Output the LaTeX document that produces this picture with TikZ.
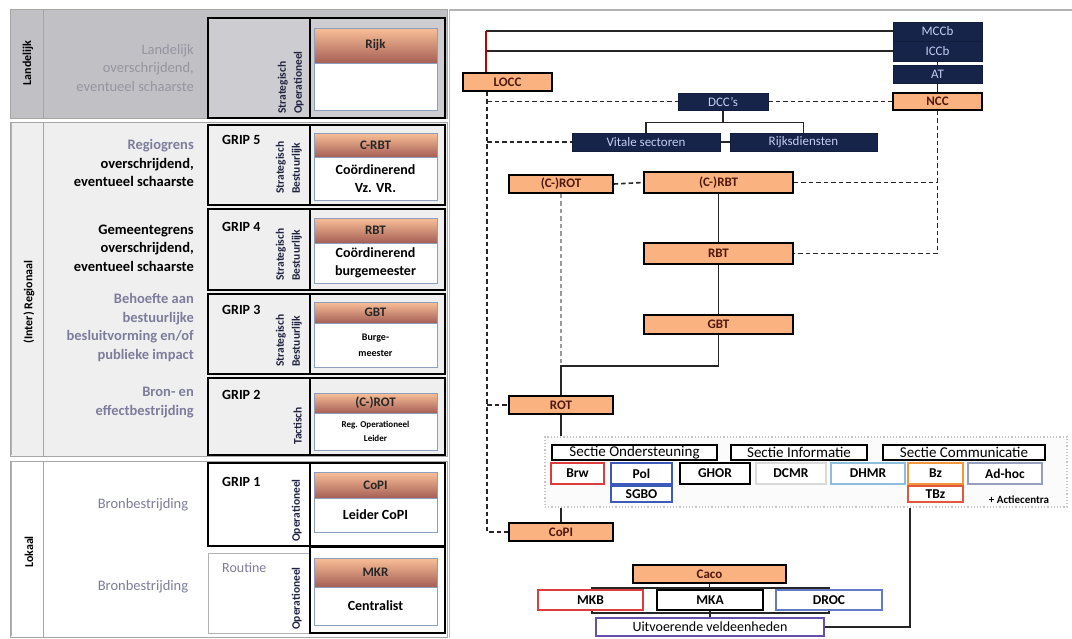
\documentclass[tikz,border=0pt]{standalone}
\usepackage{fontspec}
\setmainfont{Carlito}
\usetikzlibrary{calc}
\pgfdeclarelayer{bg}
\pgfdeclarelayer{paper}
\pgfsetlayers{paper,bg,main}
\definecolor{orfill}{RGB}{249,178,128}
\definecolor{ortext}{RGB}{80,25,15}
\definecolor{navy}{RGB}{22,36,74}
\definecolor{navytext}{RGB}{195,205,245}
\definecolor{landgray}{RGB}{193,192,197}
\definecolor{reggray}{RGB}{239,239,240}
\definecolor{descgray}{RGB}{125,125,155}
\definecolor{landtext}{RGB}{150,148,158}
\definecolor{cardline}{RGB}{140,160,190}
\definecolor{hdtop}{RGB}{250,192,152}
\definecolor{hdbot}{RGB}{165,95,85}
\definecolor{vtext}{RGB}{35,35,65}
\definecolor{cred}{RGB}{220,60,60}
\definecolor{cblue}{RGB}{60,90,185}
\definecolor{corange}{RGB}{240,150,60}
\definecolor{clblue}{RGB}{140,190,220}
\definecolor{cgblue}{RGB}{150,160,190}
\definecolor{cpurple}{RGB}{100,80,170}
\newcommand\fsz[2]{\fontsize{#1}{#2}\selectfont}
\begin{document}
\begin{tikzpicture}[x=1pt,y=-1pt,
  orbox/.style={draw=black, line width=1.4pt, fill=orfill, text=ortext, font=\bfseries\fsz{13}{13}, inner sep=0pt},
  nvbox/.style={draw=navy!80!black, line width=0.8pt, fill=navy, text=navytext, font=\fsz{13}{14}, inner sep=0pt},
  sectlab/.style={draw=black, line width=1.1pt, fill=white, font=\fsz{15}{15}, inner sep=0pt},
  unitbox/.style={line width=1.1pt, fill=white, font=\bfseries\fsz{13.5}{14}, inner sep=0pt},
  conn/.style={line width=1.3pt, draw=black!85},
  dconn/.style={line width=1.6pt, draw=black!85, dash pattern=on 4.5pt off 3pt},
  hdr/.style={draw=cardline, line width=0.8pt, top color=hdtop, bottom color=hdbot, text=black!85, font=\bfseries\fsz{13}{14}, inner sep=0pt, minimum width=123pt},
  cbody/.style={draw=cardline, line width=0.8pt, fill=white, align=center, font=\bfseries\fsz{14}{18}, inner sep=0pt, minimum width=123pt},
  vlab/.style={rotate=90, anchor=south west, align=left, text=vtext, font=\bfseries\fsz{11.5}{16}, inner sep=0pt},
  grip/.style={anchor=west, font=\bfseries\fsz{14}{15}, inner sep=0pt},
  desc/.style={anchor=east, align=right, font=\bfseries\fsz{14.5}{18.5}, inner sep=0pt},
  side/.style={rotate=90, font=\bfseries\fsz{12}{13}, inner sep=0pt},
  secfill/.style={draw=gray!70, line width=1pt},
  gripbox/.style={draw=black, line width=2pt},
]
\useasboundingbox (0,0) rectangle (1072,638);
\begin{pgfonlayer}{paper}
\fill[white] (0,0) rectangle (1072,638);
\end{pgfonlayer}

% ---------- left panel sections ----------
\draw[secfill, fill=landgray] (10,9) rectangle (447,118);
\draw[gray!70, line width=0.8pt] (43,9) -- (43,118);
\draw[secfill, fill=reggray] (10,122) rectangle (447,456);
\draw[gray!70, line width=0.8pt] (43,122) -- (43,456);
\draw[secfill, fill=white] (10,461) rectangle (447,637);
\draw[gray!70, line width=0.8pt] (43,461) -- (43,637);
\draw[clblue, line width=1pt] (11,123) -- (11,455) (11,462) -- (11,636);

% inner boxes
\draw[gripbox, fill=landgray!80!white] (208,18) rectangle (445,118);
\draw[gripbox] (310,18) -- (310,118);
\foreach \t/\b in {125/205, 209/290, 294/374, 378/455}{
  \draw[gripbox] (208,\t) rectangle (445,\b);
  \draw[gripbox] (310,\t) -- (310,\b);
}
\draw[gripbox] (208,463) rectangle (445,546);
\draw[gripbox] (310,463) -- (310,546);
\draw[gray!60, line width=0.8pt] (208,553) rectangle (310,633);
\draw[gripbox] (310,547) rectangle (445,633);

% side labels
\node[side] (lland) at (28,63) {Landelijk};
\node[side] (lreg) at (29,302) {(Inter) Regionaal};
\node[side] (llok) at (29,552) {Lokaal};

% descriptions
\node[desc, text=landtext, font=\fsz{14.5}{18.5}] (d0) at (194,68) {Landelijk\\overschrijdend,\\eventueel schaarste};
\node[desc] (d5) at (194,163) {\textcolor{descgray}{Regiogrens}\\overschrijdend,\\eventueel schaarste};
\node[desc] (d4) at (194,248) {Gemeentegrens\\overschrijdend,\\eventueel schaarste};
\node[desc, text=descgray] (d3) at (194,327.5) {Behoefte aan\\bestuurlijke\\besluitvorming en/of\\publieke impact};
\node[desc, text=descgray] (d2) at (194,402.5) {Bron- en\\effectbestrijding};
\node[text=descgray, font=\fsz{14.5}{16}, inner sep=0pt] (d1) at (143,505) {Bronbestrijding};
\node[text=descgray, font=\fsz{14.5}{16}, inner sep=0pt] (dr) at (143,587) {Bronbestrijding};

% GRIP labels
\node[grip] (g5) at (222,140) {GRIP 5};
\node[grip] (g4) at (222,227) {GRIP 4};
\node[grip] (g3) at (222,310) {GRIP 3};
\node[grip] (g2) at (222,395) {GRIP 2};
\node[grip] (g1) at (222,482) {GRIP 1};
\node[grip, text=descgray, font=\fsz{14}{15}] (groutine) at (222,568) {Routine};

% vertical labels
\node[vlab] (v0) at (304,114) {Strategisch\\Operationeel};
\node[vlab] (v5) at (302,194) {Strategisch\\Bestuurlijk};
\node[vlab] (v4) at (302,281) {Strategisch\\Bestuurlijk};
\node[vlab] (v3) at (302,367) {Strategisch\\Bestuurlijk};
\node[vlab] (v2) at (302,445) {Tactisch};
\node[vlab] (v1) at (302,542) {Operationeel};
\node[vlab] (vr) at (302,630) {Operationeel};

% cards
\node[hdr, minimum height=35] (h0) at (375.5,45.5) {Rijk};
\node[cbody, minimum height=47] (b0) at (375.5,86.5) {};
\node[hdr, minimum height=24] (h5) at (375.5,145) {C-RBT};
\node[cbody, minimum height=43] (b5) at (375.5,178.5) {Coördinerend\\Vz. VR.};
\node[hdr, minimum height=25] (h4) at (375.5,230.5) {RBT};
\node[cbody, minimum height=40] (b4) at (375.5,263) {Coördinerend\\burgemeester};
\node[hdr, minimum height=21] (h3) at (375.5,312.5) {GBT};
\node[cbody, minimum height=44, font=\bfseries\fsz{10}{16}] (b3) at (375.5,345) {Burge-\\meester};
\node[hdr, minimum height=20] (h2) at (375.5,403) {(C-)ROT};
\node[cbody, minimum height=37, font=\bfseries\fsz{9}{14}] (b2) at (375.5,431.5) {Reg. Operationeel\\Leider};
\node[hdr, minimum height=26] (h1) at (375.5,485) {CoPI};
\node[cbody, minimum height=34] (b1) at (375.5,515) {Leider CoPI};
\node[hdr, minimum height=29] (hr) at (375.5,572.5) {MKR};
\node[cbody, minimum height=38] (br) at (375.5,606) {Centralist};

% ---------- right panel ----------
\draw[gray!60, line width=1.5pt] (449,10) -- (1072,10);
\draw[gray!50, line width=0.8pt] (449,10) -- (449,638);

\node[orbox, minimum width=89, minimum height=18] (LOCC) at (507.5,82) {LOCC};
\node[nvbox, minimum width=89, minimum height=19] (MCCb) at (937.5,31.5) {MCCb};
\node[nvbox, minimum width=89, minimum height=20] (ICCb) at (937.5,51) {ICCb};
\node[nvbox, minimum width=89, minimum height=18] (AT) at (937.5,74) {AT};
\node[orbox, minimum width=89, minimum height=17] (NCC) at (937.5,101.5) {NCC};
\node[nvbox, minimum width=90, minimum height=17] (DCC) at (723,101.5) {DCC's};
\node[nvbox, minimum width=148, minimum height=18] (VS) at (646,142) {Vitale sectoren};
\node[nvbox, minimum width=147, minimum height=18] (RD) at (803.5,142) {Rijksdiensten};
\node[orbox, minimum width=104, minimum height=18] (CROT) at (561,184) {(C-)ROT};
\node[orbox, minimum width=149, minimum height=21] (CRBT) at (718.5,182.5) {(C-)RBT};
\node[orbox, minimum width=149, minimum height=21] (RBT) at (718.5,253.5) {RBT};
\node[orbox, minimum width=149, minimum height=19] (GBT) at (718.5,324.5) {GBT};
\node[orbox, minimum width=104, minimum height=18] (ROT) at (561,405) {ROT};

\node[draw=gray!45, dotted, line width=1.2pt, fill=gray!3, minimum width=522, minimum height=70, inner sep=0pt] (SECT) at (806,472) {};
\node[sectlab, minimum width=165, minimum height=15] (SO) at (634.5,452.5) {Sectie Ondersteuning};
\node[sectlab, minimum width=136, minimum height=15] (SI) at (799,452.5) {Sectie Informatie};
\node[sectlab, minimum width=162, minimum height=15] (SC) at (964,452.5) {Sectie Communicatie};
\node[unitbox, draw=cred, minimum width=53, minimum height=21] (Brw) at (577.5,473.5) {Brw};
\node[unitbox, draw=cblue, minimum width=61, minimum height=21] (Pol) at (641.5,473.5) {Pol};
\node[unitbox, draw=black, line width=1.5pt, minimum width=70, minimum height=21] (GHOR) at (715,473.5) {GHOR};
\node[unitbox, draw=gray!30, minimum width=70, minimum height=21] (DCMR) at (791,473.5) {DCMR};
\node[unitbox, draw=clblue, minimum width=74, minimum height=21] (DHMR) at (868,473.5) {DHMR};
\node[unitbox, draw=corange, minimum width=55, minimum height=21] (Bz) at (935.5,473.5) {Bz};
\node[unitbox, draw=cgblue, minimum width=74, minimum height=21] (Adhoc) at (1005,473.5) {Ad-hoc};
\node[unitbox, draw=cblue, minimum width=61, minimum height=16] (SGBO) at (641.5,494) {SGBO};
\node[unitbox, draw=cred!70!corange, minimum width=55, minimum height=16] (TBz) at (935.5,494) {TBz};
\node[font=\bfseries\fsz{11}{11}, inner sep=0pt] (ACT) at (1019,500) {+ Actiecentra};

\node[orbox, minimum width=104, minimum height=18] (COPI) at (561,532) {CoPI};
\node[orbox, minimum width=153, minimum height=18] (Caco) at (709.5,574) {Caco};
\node[unitbox, draw=cred, minimum width=105, minimum height=20] (MKB) at (590.5,600) {MKB};
\node[unitbox, draw=black, minimum width=106, minimum height=20] (MKA) at (710,600) {MKA};
\node[unitbox, draw=cblue!80!white, minimum width=106, minimum height=20] (DROC) at (829,600) {DROC};
\node[unitbox, draw=cpurple, minimum width=228, minimum height=18, font=\fsz{14}{14}] (UV) at (710,627) {Uitvoerende veldeenheden};

\begin{pgfonlayer}{bg}
\coordinate (lt) at (486,31);
\coordinate (lx) at (487,101.5);
\draw[conn] (lt) -- (lt -| MCCb.west);
\draw[conn] (lt |- ICCb.west) -- (ICCb.west);
\draw[line width=1.3pt, red!75!black] (LOCC.north -| lt) -- (lt);
\draw[conn] (MCCb.south) -- (NCC.north);
\draw[dconn] (LOCC.south -| lx) -- (lx |- COPI.west) -- (COPI.west);
\draw[dconn] (lx) -- (DCC.west);
\draw[dconn] (DCC.east) -- (NCC.west);
\draw[dconn] (lx |- VS.west) -- (VS.west);
\draw[conn] (DCC.south) -- ++(0,12) coordinate (dj);
\draw[conn] (VS.north) |- (dj) -| (RD.north);
\draw[conn] (VS.east) -- (RD.west);
\draw[dconn] (CROT.east) -- (CRBT.west);
\draw[dconn] (CRBT.east) -- (CRBT.east -| NCC.south);
\draw[dconn] (NCC.south) |- (RBT.east);
\draw[conn] (CRBT.south) -- (RBT.north);
\draw[conn] (RBT.south) -- (GBT.north);
\coordinate (gj) at (561,366);
\draw[conn] (GBT.south) |- (gj) -- (ROT.north);
\draw[dconn, black!40, line width=1.3pt] (CROT.south) -- (gj);
\draw[dconn] (lx |- ROT.west) -- (ROT.west);
\draw[conn] (ROT.south) -- (ROT.south |- SECT.north);
\draw[conn] (SECT.south -| COPI.north) -- (COPI.north);
\coordinate (rj) at (910,627);
\draw[conn] (SECT.south -| rj) -- (rj) -- (UV.east);
\coordinate (bl1) at (592,591);
\coordinate (br1) at (829,591);
\coordinate (bl2) at (592,610);
\coordinate (br2) at (829,610);
\draw[conn] (Caco.south) -- (Caco.south |- 0,588);
\draw[conn] (bl1) -- ++(0,-3) -- ($(br1)+(0,-3)$) -- (br1);
\draw[conn] (bl2) -- ++(0,3) -- ($(br2)+(0,3)$) -- (br2);
\draw[conn] (MKA.south) -- (UV.north);
\end{pgfonlayer}
\end{tikzpicture}
\end{document}
